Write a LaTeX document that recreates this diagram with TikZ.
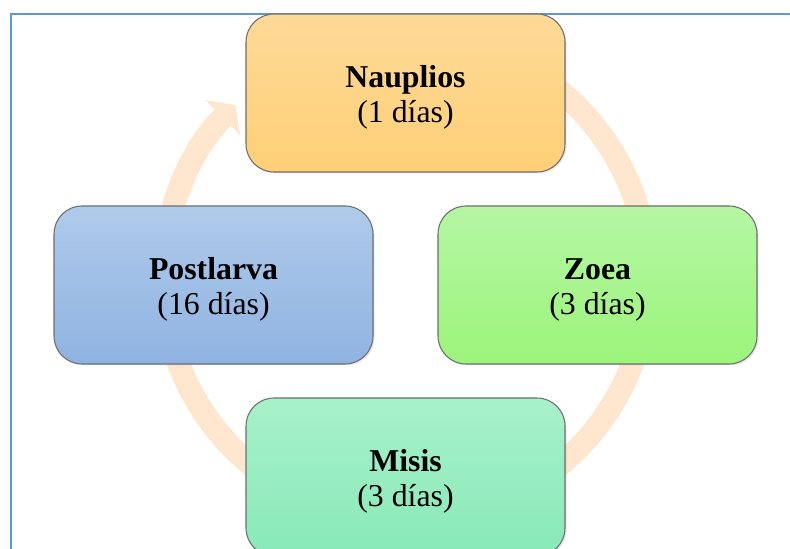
\documentclass[tikz,border=0pt]{standalone}
\usepackage{fontspec}
\setmainfont{Liberation Serif}
\usepackage{tikz}
\usetikzlibrary{arrows.meta,shadows}

\definecolor{marco}{HTML}{5B9BD5}
\definecolor{flecha}{HTML}{FEE7CE}
\definecolor{borde}{HTML}{6E6E6E}

% strut that pushes the two lines a bit lower in the box
\newcommand{\alto}{\rule{0pt}{0.62cm}}

\tikzset{
    etapa/.style={draw=borde, line width=0.6pt, rounded corners=0.56cm,
        minimum width=6.38cm, minimum height=3.16cm, inner sep=0pt,
        align=center, font=\fontsize{18.1}{19.9}\selectfont,
        drop shadow={opacity=0.2, shadow xshift=0.03cm, shadow yshift=-0.03cm}},
    ciclo/.style={draw=flecha, line width=0.46cm,
        -{Triangle[width=0.97cm, length=0.36cm]}}
}

\begin{document}
\begin{tikzpicture}
    \useasboundingbox (0,0) rectangle (15.8,10.98);

    % blue frame, only left and top edges visible
    \draw[marco, line width=1.5pt] (0.22,0) -- (0.22,10.7) -- (15.8,10.7);

    % centre of the cycle
    \coordinate (c) at (8.11,5.42);

    % cycle arrow behind the boxes, clockwise, head near Nauplios
    \draw[ciclo] ([shift={(60:4.85)}]c) arc[start angle=60, end angle=-225.5, radius=4.85];

    % the four stages
    \node[etapa, top color={rgb,255:red,254;green,218;blue,152}, bottom color={rgb,255:red,254;green,207;blue,118}]
        (nauplios) at (8.11,9.12) {\alto\textbf{Nauplios}\\(1 días)};
    \node[etapa, top color={rgb,255:red,181;green,246;blue,164}, bottom color={rgb,255:red,156;green,245;blue,123}]
        (zoea) at (11.95,5.28) {\alto\textbf{Zoea}\\(3 días)};
    \node[etapa, top color={rgb,255:red,168;green,241;blue,202}, bottom color={rgb,255:red,136;green,233;blue,184}]
        (misis) at (8.11,1.44) {\alto\textbf{Misis}\\(3 días)};
    \node[etapa, top color={rgb,255:red,176;green,202;blue,234}, bottom color={rgb,255:red,143;green,179;blue,225}]
        (postlarva) at (4.27,5.28) {\alto\textbf{Postlarva}\\(16 días)};
\end{tikzpicture}
\end{document}
